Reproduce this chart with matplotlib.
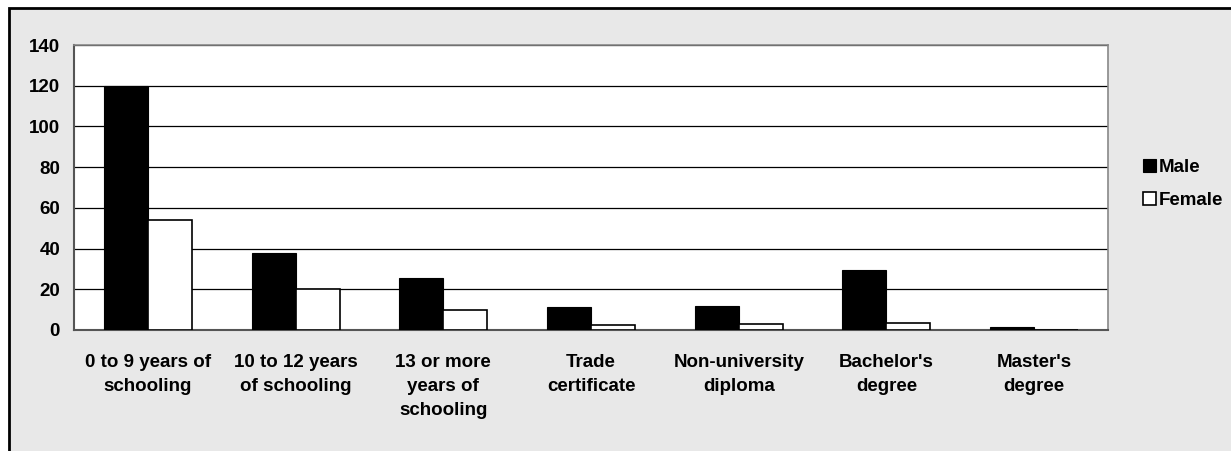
import matplotlib
matplotlib.use("Agg")
import matplotlib.pyplot as plt
import numpy as np
from matplotlib.patches import Rectangle

categories = ["0 to 9 years of\nschooling", "10 to 12 years\nof schooling",
              "13 or more\nyears of\nschooling", "Trade\ncertificate",
              "Non-university\ndiploma", "Bachelor's\ndegree", "Master's\ndegree"]
male = [120, 38, 25.5, 11.5, 12, 29.5, 1.5]
female = [54, 20, 10, 2.5, 3, 3.5, 0]
yticks = [0, 20, 40, 60, 80, 100, 120, 140]

plt.rcParams['font.family'] = ['Liberation Sans', 'DejaVu Sans']
W, H = 1231, 451
fig = plt.figure(figsize=(W/100, H/100), dpi=100, facecolor='white')
fig.patches.append(Rectangle((8.5/W, -0.1), 1.2, 1 - 8.5/H + 0.1, transform=fig.transFigure,
                             facecolor='#e8e8e8', edgecolor='black', linewidth=2, zorder=-10))

ax = fig.add_axes([74/W, 1 - 330/H, (1108-74)/W, (330-45)/H])
ax.set_facecolor('white')
x = np.arange(len(categories))
bw = 0.298
ax.bar(x - bw/2, male, bw, color='black', edgecolor='black', linewidth=0.8, label='Male', zorder=3)
ax.bar(x + bw/2, female, bw, color='white', edgecolor='black', linewidth=1.2, label='Female', zorder=3)
ax.set_xlim(-0.5, len(categories) - 0.5)
ax.set_ylim(0, 140)
ax.set_yticks(yticks)
ax.set_yticklabels([str(v) for v in yticks], fontsize=13.5, fontweight='bold')
ax.yaxis.grid(True, color='black', linewidth=0.9, zorder=0)
ax.set_axisbelow(True)
ax.set_xticks(x)
ax.set_xticklabels(categories, fontsize=13.5, fontweight='bold', linespacing=1.55, va='top')
ax.tick_params(axis='both', length=0)
ax.tick_params(axis='x', pad=17)
ax.tick_params(axis='y', pad=10)
for s in ['top', 'right']:
    ax.spines[s].set_color('#888888')
    ax.spines[s].set_linewidth(1.2)
for s in ['left', 'bottom']:
    ax.spines[s].set_color('#555555')
    ax.spines[s].set_linewidth(1.5)

leg = fig.legend(loc='center left', bbox_to_anchor=(1126/W, 1 - 184/H), frameon=False,
                 prop={'size': 13.5, 'weight': 'bold'}, handlelength=0.7, handleheight=0.7,
                 handletextpad=0.15, labelspacing=0.85)
fig.savefig('out.png', dpi=100, facecolor=fig.get_facecolor())
